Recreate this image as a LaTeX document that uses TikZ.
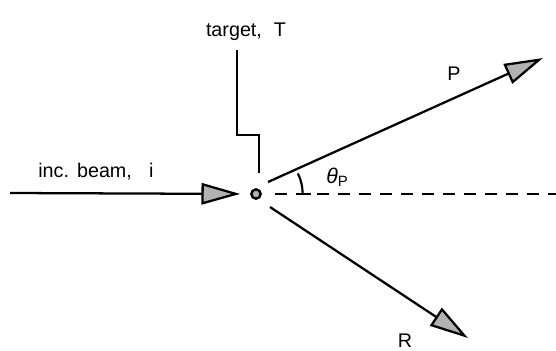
\documentclass[tikz,border=0pt]{standalone}
\usepackage{fontspec}
\setmainfont{Liberation Sans}
\usetikzlibrary{arrows.meta}

\begin{document}
\begin{tikzpicture}[x=0.75pt,y=-0.75pt,
  beam/.style={line width=1.7pt,-{Triangle[length=29pt,width=16pt,fill=gray!60]}},
  lbl/.style={font=\fontsize{14.8pt}{17pt}\selectfont,inner sep=0pt,anchor=base}]
\useasboundingbox (0,0) rectangle (556,350);
\node[circle,draw,line width=1.8pt,fill=gray!60,minimum size=7pt,inner sep=0pt] (tgt) at (256,194) {};
\coordinate (src) at (10,193);
\coordinate (pE) at (543,58);
\coordinate (rE) at (468,338);
\coordinate (dEnd) at (556,194);
\coordinate (hTop) at (237,50);
\coordinate (hKnee) at (259,135);
\coordinate (hBot) at (259,173);
% beams
\draw[beam,shorten >=7.5pt] (src) -- (tgt);
\draw[beam] ([shift={(12,-12)}]tgt.center) -- (pE);
\draw[beam] ([shift={(14,13)}]tgt.center) -- (rE);
\draw[line width=1.7pt,dash pattern=on 9pt off 6.75pt] ([xshift=14.25pt]tgt.center) -- (dEnd);
% target holder
\draw[line width=1.6pt] (hTop) |- (hKnee) -- (hBot);
% angle
\draw[line width=1.6pt] ([xshift=35pt]tgt.center) arc[start angle=0,end angle=-26,radius=47];
\draw[line width=1.7pt] ([xshift=30pt]tgt.center) -- ([xshift=41pt]tgt.center);
\node[lbl] (lblTarget) at (246,36) {target,\hspace{9pt}T};
\node[lbl] (lblBeam) at (96,177) {inc.\hspace{6pt}beam,\hspace{13pt}i};
\node[lbl] (lblP) at (454,80) {P};
\node[lbl] (lblR) at (405,347) {R};
\node[lbl,anchor=base west] (lblTheta) at (326,183) {\fontsize{16pt}{18pt}\selectfont\textit{θ}\textsubscript{P}};
\end{tikzpicture}
\end{document}
